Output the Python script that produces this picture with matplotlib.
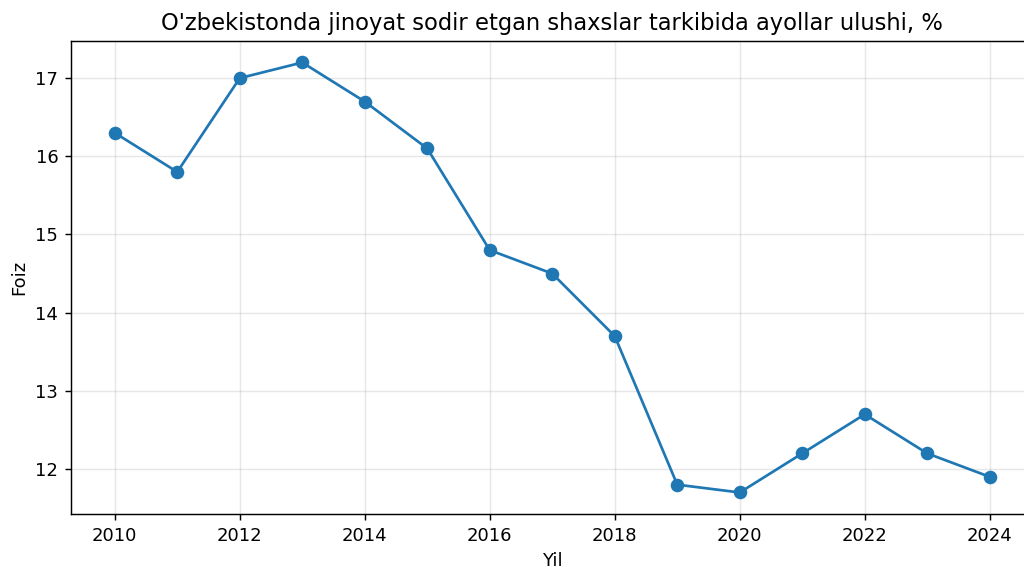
import matplotlib
matplotlib.use("Agg")
import matplotlib.pyplot as plt

years = [2010, 2011, 2012, 2013, 2014, 2015, 2016, 2017, 2018, 2019, 2020, 2021, 2022, 2023, 2024]
share = [16.3, 15.8, 17.0, 17.2, 16.7, 16.1, 14.8, 14.5, 13.7, 11.8, 11.7, 12.2, 12.7, 12.2, 11.9]

DPI = 130
fig = plt.figure(figsize=(1024 / DPI, 567 / DPI), dpi=DPI)
ax = fig.add_axes([71 / 1024, 0.0935, 962.5 / 1024, 0.8342])
ax.plot(years, share, marker='o', color='#1f77b4', linewidth=1.5, markersize=6.5)
ax.set_xlim(2009.3, 2024.7)
ax.set_title("O'zbekistonda jinoyat sodir etgan shaxslar tarkibida ayollar ulushi, %", fontsize=12.55)
ax.set_xlabel("Yil")
ax.set_ylabel("Foiz")
ax.grid(True, alpha=0.3)
fig.savefig("out.png", dpi=DPI)
